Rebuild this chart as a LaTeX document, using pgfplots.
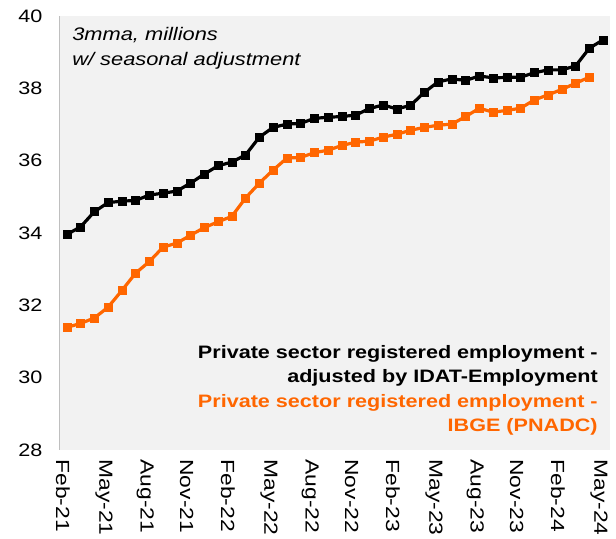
\documentclass[border=0pt]{standalone}
\usepackage{fontspec}
\setmainfont[FakeStretch=1.2]{Liberation Sans}
\usepackage{pgfplots}
\pgfplotsset{compat=1.18}
\definecolor{bgc}{HTML}{F2F2F2}
\definecolor{axc}{HTML}{BFBFBF}
\definecolor{orangeS}{HTML}{FF6600}
\begin{document}
\begin{tikzpicture}
\begin{axis}[
  name=ax,
  scale only axis,
  width=550pt, height=434pt,
  xmin=-0.5, xmax=39.5,
  ymin=28, ymax=40,
  ytick={28,30,...,40},
  xtick={0,3,...,39},
  xticklabels={Feb-21,May-21,Aug-21,Nov-21,Feb-22,May-22,Aug-22,Nov-22,Feb-23,May-23,Aug-23,Nov-23,Feb-24,May-24},
  axis line style={draw=none},
  major tick length=0pt,
  axis background/.style={fill=bgc},
  /pgf/number format/assume math mode=true,
  xticklabel style={font=\fontsize{19}{19}\selectfont, rotate=-90, anchor=west, xshift=6pt, yshift=-4pt},
  yticklabel style={font=\fontsize{18}{18}\selectfont, anchor=east, xshift=-14pt},
  clip=false,
]
\draw[axc, line width=1pt] (rel axis cs:0,0) -- (rel axis cs:0,1);
\addplot[black, line width=3.2pt, mark=square*, mark size=4pt, mark options={solid, line width=0.6pt}] coordinates {
(0,33.96)(1,34.17)(2,34.59)(3,34.84)(4,34.88)(5,34.90)(6,35.05)(7,35.10)(8,35.16)(9,35.38)
(10,35.63)(11,35.86)(12,35.96)(13,36.16)(14,36.65)(15,36.92)(16,37.01)(17,37.03)(18,37.17)(19,37.20)
(20,37.22)(21,37.26)(22,37.44)(23,37.54)(24,37.43)(25,37.53)(26,37.89)(27,38.18)(28,38.26)(29,38.22)
(30,38.34)(31,38.29)(32,38.30)(33,38.31)(34,38.43)(35,38.51)(36,38.51)(37,38.62)(38,39.11)(39,39.34)
};
\addplot[orangeS, line width=3.2pt, mark=square*, mark size=4pt, mark options={solid, line width=0.6pt}] coordinates {
(0,31.39)(1,31.50)(2,31.65)(3,31.95)(4,32.41)(5,32.89)(6,33.21)(7,33.61)(8,33.72)(9,33.94)
(10,34.15)(11,34.31)(12,34.46)(13,34.97)(14,35.38)(15,35.74)(16,36.07)(17,36.09)(18,36.22)(19,36.29)
(20,36.42)(21,36.51)(22,36.54)(23,36.65)(24,36.73)(25,36.84)(26,36.92)(27,36.98)(28,37.01)(29,37.22)
(30,37.45)(31,37.34)(32,37.39)(33,37.45)(34,37.68)(35,37.82)(36,37.97)(37,38.14)(38,38.31)
};
\node[anchor=north west, align=left, inner sep=0pt, font=\fontsize{18.2}{25}\selectfont\itshape]
  at (rel axis cs:0.022,0.975) {3mma, millions\\w/ seasonal adjustment};
\node[anchor=north east, align=right, inner sep=0pt, font=\fontsize{18}{24.5}\selectfont\bfseries]
  at (rel axis cs:0.978,0.242) {Private sector registered employment -\\adjusted by IDAT-Employment\\\textcolor{orangeS}{Private sector registered employment -}\\\textcolor{orangeS}{IBGE (PNADC)}};
\end{axis}
\pgfresetboundingbox
\path[use as bounding box] (ax.south west) ++(-60pt,-89pt) rectangle ([xshift=6pt,yshift=16pt]ax.north east);
\end{tikzpicture}
\end{document}
